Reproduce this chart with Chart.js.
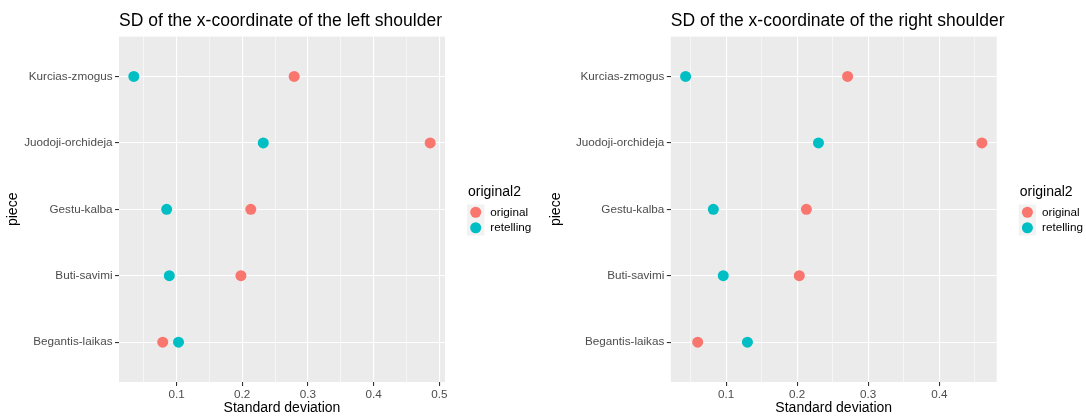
<!DOCTYPE html>
<html>
<head>
<meta charset="utf-8">
<script src="https://cdn.jsdelivr.net/npm/chart.js@4"></script>
<style>
  body { margin: 0; background: #fff; }
  .wrap { display: flex; width: 1086px; height: 420px; }
  canvas { display: block; }
</style>
</head>
<body>
<div class="wrap">
  <canvas id="leftChart" width="543" height="420"></canvas>
  <canvas id="rightChart" width="543" height="420"></canvas>
</div>
<script>
// factor levels, bottom to top
const pieces = ['Begantis-laikas', 'Buti-savimi', 'Gestu-kalba', 'Juodoji-orchideja', 'Kurcias-zmogus'];
const groups = ['original', 'retelling'];
const groupColors = ['#F8766D', '#00BFC4'];

const leftOriginal = [0.079, 0.198, 0.213, 0.486, 0.279];
const leftRetelling = [0.103, 0.089, 0.085, 0.232, 0.035];
const leftTicks = [0.1, 0.2, 0.3, 0.4, 0.5];

const rightOriginal = [0.060, 0.203, 0.213, 0.460, 0.271];
const rightRetelling = [0.130, 0.096, 0.082, 0.230, 0.043];
const rightTicks = [0.1, 0.2, 0.3, 0.4];

const FONT = '"Liberation Sans", Arial, Helvetica, sans-serif';

const panelBg = {
  id: 'panelBg',
  beforeDraw(chart) {
    const a = chart.chartArea;
    const ctx = chart.ctx;
    ctx.save();
    ctx.fillStyle = '#EBEBEB';
    ctx.fillRect(a.left, a.top, a.right - a.left, a.bottom - a.top);
    ctx.restore();
  }
};

const ggTitle = {
  id: 'ggTitle',
  afterDraw(chart, args, opts) {
    const ctx = chart.ctx;
    ctx.save();
    ctx.font = '17.5px ' + FONT;
    ctx.fillStyle = '#000';
    ctx.textBaseline = 'alphabetic';
    ctx.fillText(opts.text, chart.chartArea.left, 26);
    ctx.restore();
  }
};

const ggLegend = {
  id: 'ggLegend',
  afterDraw(chart, args, opts) {
    const ctx = chart.ctx;
    const x0 = chart.chartArea.right + 22;
    ctx.save();
    ctx.textBaseline = 'middle';
    ctx.fillStyle = '#000';
    ctx.font = '14px ' + FONT;
    ctx.fillText(opts.title, x0 + 1, 192);
    chart.data.datasets.forEach((ds, i) => {
      const top = 204.5 + i * 15.5;
      ctx.fillStyle = '#F2F2F2';
      ctx.fillRect(x0, top, 17.3, 15.5);
      ctx.beginPath();
      ctx.arc(x0 + 8.7, top + 7.75, 5.5, 0, Math.PI * 2);
      ctx.fillStyle = ds.backgroundColor;
      ctx.fill();
      ctx.fillStyle = '#000';
      ctx.font = '11.7px ' + FONT;
      ctx.fillText(ds.label, x0 + 23.3, top + 8);
    });
    ctx.restore();
  }
};

function makeChart(id, title, origVals, retVals, majors, leftEdge, rightEdge) {
  const all = origVals.concat(retVals);
  const lo = Math.min(...all);
  const hi = Math.max(...all);
  const pad = (hi - lo) * 0.05;
  const xMin = lo - pad;
  const xMax = hi + pad;
  const isMajor = v => majors.some(m => Math.abs(m - v) < 1e-9);
  const xTicks = [];
  majors.forEach(m => {
    [m - 0.05, m, m + 0.05].forEach(v => {
      if (v >= xMin && v <= xMax && !xTicks.some(t => Math.abs(t - v) < 1e-9)) xTicks.push(v);
    });
  });
  xTicks.sort((a, b) => a - b);

  const values = [origVals, retVals];
  const datasets = groups.map((g, k) => ({
    label: g,
    data: pieces.map((p, i) => ({ x: values[k][i], y: i })),
    backgroundColor: groupColors[k],
    borderWidth: 0,
    pointRadius: 5.5,
    pointHoverRadius: 5.5
  }));

  return new Chart(document.getElementById(id), {
    type: 'scatter',
    data: { datasets },
    options: {
      responsive: false,
      animation: false,
      layout: { padding: { top: 36.6, right: 543 - rightEdge, bottom: 0, left: 0 } },
      plugins: {
        legend: { display: false },
        tooltip: { enabled: false },
        ggTitle: { text: title },
        ggLegend: { title: 'original2' }
      },
      scales: {
        x: {
          type: 'linear',
          min: xMin,
          max: xMax,
          afterBuildTicks: s => { s.ticks = xTicks.map(v => ({ value: v })); },
          afterFit: s => { s.height = 38; },
          border: { display: false },
          grid: {
            color: '#FFFFFF',
            lineWidth: c => isMajor(c.tick.value) ? 1.1 : 0.55,
            tickLength: 4,
            tickWidth: 1.1,
            tickColor: c => isMajor(c.tick.value) ? '#333333' : 'rgba(0,0,0,0)'
          },
          ticks: {
            autoSkip: false,
            maxRotation: 0,
            padding: 2,
            color: '#4D4D4D',
            font: { family: FONT, size: 11.7 },
            callback: v => isMajor(v) ? v.toFixed(1) : ''
          },
          title: {
            display: true,
            text: 'Standard deviation',
            color: '#000',
            font: { family: FONT, size: 14 },
            padding: { top: 3, bottom: 3 }
          }
        },
        y: {
          type: 'linear',
          min: -0.6,
          max: pieces.length - 0.4,
          afterBuildTicks: s => { s.ticks = pieces.map((p, i) => ({ value: i })); },
          afterFit: s => { s.width = leftEdge; },
          border: { display: false },
          grid: {
            color: '#FFFFFF',
            lineWidth: 1.1,
            tickLength: 4,
            tickWidth: 1.1,
            tickColor: '#333333'
          },
          ticks: {
            autoSkip: false,
            padding: 2.5,
            color: '#4D4D4D',
            font: { family: FONT, size: 11.7 },
            callback: v => pieces[v]
          },
          title: {
            display: true,
            text: 'piece',
            color: '#000',
            font: { family: FONT, size: 14 },
            padding: { top: 5, bottom: 5 }
          }
        }
      }
    },
    plugins: [panelBg, ggTitle, ggLegend]
  });
}

makeChart('leftChart', 'SD of the x-coordinate of the left shoulder', leftOriginal, leftRetelling, leftTicks, 119, 445);
makeChart('rightChart', 'SD of the x-coordinate of the right shoulder', rightOriginal, rightRetelling, rightTicks, 127.8, 453.7);
</script>
</body>
</html>
